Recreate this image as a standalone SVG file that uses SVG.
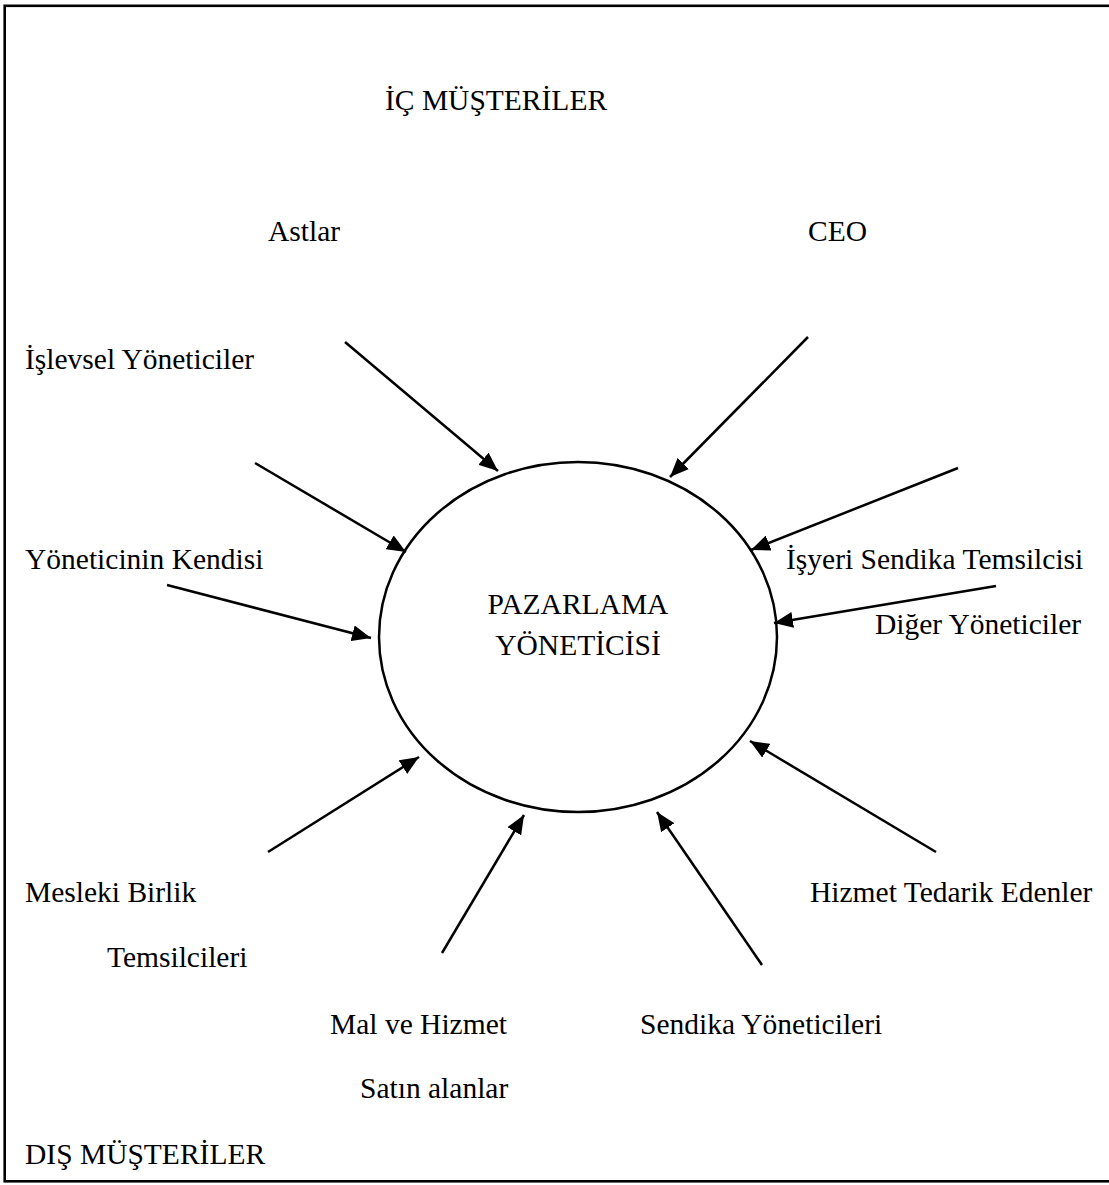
<svg xmlns="http://www.w3.org/2000/svg" width="1109" height="1185" viewBox="0 0 1109 1185">
  <style>
    .lbl { font-family: "Liberation Serif", "Times New Roman", serif; font-size: 29.5px; fill: #000; }
    .edge { stroke: #000; stroke-width: 2.5; fill: none; marker-end: url(#head); }
  </style>
  <defs>
    <marker id="head" markerUnits="userSpaceOnUse" markerWidth="20" markerHeight="16" refX="19" refY="8" orient="auto">
      <path d="M0,0 L19,8 L0,16 z" fill="#000"/>
    </marker>
  </defs>

  <rect x="0" y="0" width="1109" height="1185" fill="#fff"/>
  <!-- outer frame (right side runs past the page edge) -->
  <rect x="4.7" y="5.8" width="1120" height="1175.5" fill="none" stroke="#000" stroke-width="2.6"/>

  <!-- section headings -->
  <g id="heading-internal"><text class="lbl" x="385" y="110">İÇ MÜŞTERİLER</text></g>
  <g id="heading-external"><text class="lbl" x="25" y="1164">DIŞ MÜŞTERİLER</text></g>

  <!-- central node -->
  <g id="marketing-manager">
    <ellipse cx="578" cy="637" rx="199" ry="175" fill="none" stroke="#000" stroke-width="2.5"/>
    <text class="lbl" x="578" y="614" text-anchor="middle">PAZARLAMA</text>
    <text class="lbl" x="578" y="655" text-anchor="middle">YÖNETİCİSİ</text>
  </g>

  <!-- internal customers -->
  <g id="astlar"><text class="lbl" x="268" y="241">Astlar</text></g>
  <g id="ceo"><text class="lbl" x="808" y="241">CEO</text></g>
  <g id="islevsel"><text class="lbl" x="25" y="369">İşlevsel Yöneticiler</text></g>
  <g id="kendisi"><text class="lbl" x="25" y="569">Yöneticinin Kendisi</text></g>
  <g id="isyeri"><text class="lbl" x="786" y="569">İşyeri Sendika Temsilcisi</text></g>
  <g id="diger"><text class="lbl" x="875" y="634">Diğer Yöneticiler</text></g>

  <!-- external customers -->
  <g id="mesleki">
    <text class="lbl" x="25" y="902">Mesleki Birlik</text>
    <text class="lbl" x="107" y="967">Temsilcileri</text>
  </g>
  <g id="hizmet-tedarik"><text class="lbl" x="810" y="902">Hizmet Tedarik Edenler</text></g>
  <g id="mal-hizmet">
    <text class="lbl" x="330" y="1034">Mal ve Hizmet</text>
    <text class="lbl" x="360" y="1098">Satın alanlar</text>
  </g>
  <g id="sendika-yon"><text class="lbl" x="640" y="1034">Sendika Yöneticileri</text></g>

  <!-- connectors pointing into the central node -->
  <g id="connectors">
    <line class="edge" x1="345" y1="342" x2="498" y2="471"/>
    <line class="edge" x1="808" y1="337" x2="670" y2="477"/>
    <line class="edge" x1="255" y1="463" x2="406" y2="552"/>
    <line class="edge" x1="167" y1="585" x2="371" y2="638"/>
    <line class="edge" x1="958" y1="468" x2="751" y2="550"/>
    <line class="edge" x1="996" y1="586" x2="774" y2="623"/>
    <line class="edge" x1="268" y1="852" x2="419" y2="757"/>
    <line class="edge" x1="442" y1="953" x2="524" y2="815"/>
    <line class="edge" x1="762" y1="965" x2="657" y2="812"/>
    <line class="edge" x1="936" y1="852" x2="750" y2="741"/>
  </g>
</svg>
